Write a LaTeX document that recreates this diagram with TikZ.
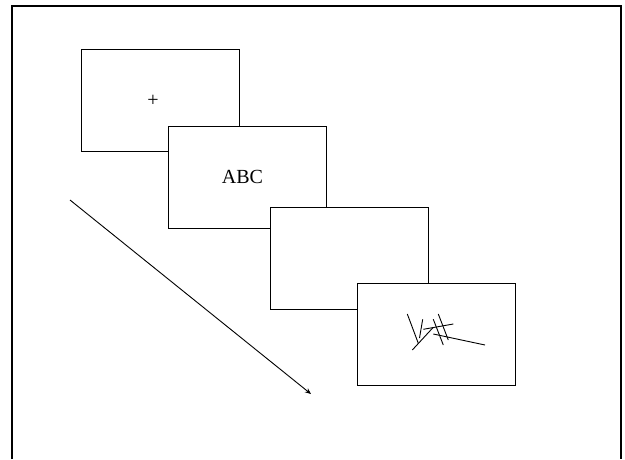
\documentclass[tikz,border=0pt]{standalone}
\usepackage{fontspec}
\setmainfont{Liberation Serif}
\usetikzlibrary{arrows.meta}
\begin{document}
\begin{tikzpicture}[x=1pt,y=-1pt,
  panel/.style={draw=black, line width=0.9pt, fill=white, minimum width=158pt, minimum height=102pt, inner sep=0pt},
  label/.style={inner sep=0pt, font=\fontsize{20}{24}\selectfont},
  frameline/.style={line width=2pt},
  stroke/.style={line width=0.9pt}]
\useasboundingbox (0,0) rectangle (625,459);
\draw[frameline] (11.5,459) -- (11.5,5.5) -- (620.5,5.5) -- (620.5,459);
\node[panel] (p1) at (160,100) {};
\node[label] (t1) at (153,101) {+};
\node[panel] (p2) at (247,177) {};
\node[label] (t2) at (242.5,177) {ABC};
\node[panel] (p3) at (349,258) {};
\node[panel] (p4) at (436,334) {};
\coordinate (s) at (70,200);
\coordinate (e) at (311,394);
\draw[stroke, -{Stealth[length=6pt,width=5pt]}] (s) -- (e);
\begin{scope}[stroke]
\draw (407.3,314) -- (418.3,343.3);
\draw (422.7,319.3) -- (419.5,338);
\draw (412.3,350) -- (433.3,327.3);
\draw (423.3,329.3) -- (453.3,324);
\draw (433.3,319.3) -- (443.3,345);
\draw (438.3,314) -- (448.3,340);
\draw (433.3,334) -- (485,345);
\end{scope}
\end{tikzpicture}
\end{document}
